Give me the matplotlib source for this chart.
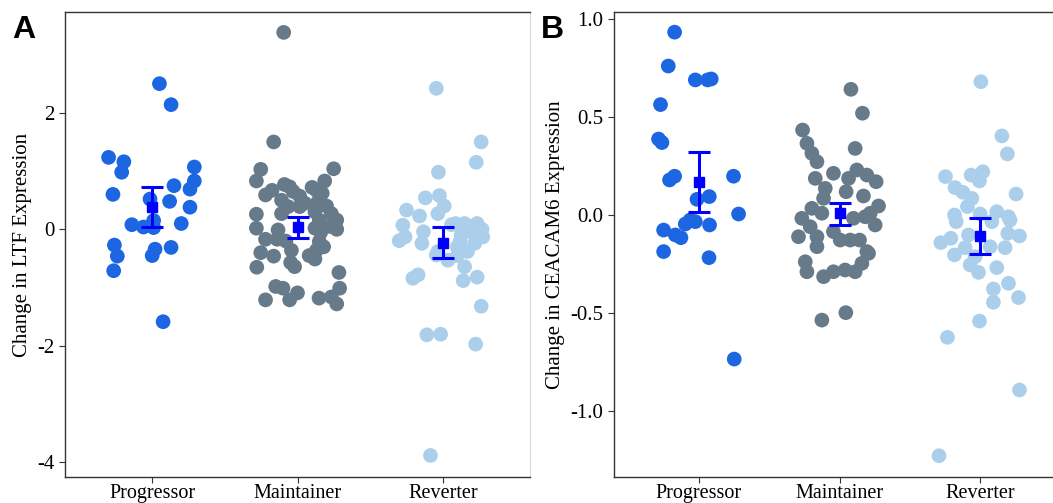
import matplotlib
matplotlib.use("Agg")
import matplotlib.pyplot as plt
import numpy as np

plt.rcParams['font.family'] = ['Liberation Serif', 'DejaVu Serif']
plt.rcParams['axes.unicode_minus'] = False

groups = ["Progressor", "Maintainer", "Reverter"]
colors = ["#1c66e2", "#667a89", "#abcfeb"]

# ---- Panel A: change in LTF expression (jitter offset, value) ----
ltf_prog_jit = [0.05, 0.13, -0.30, -0.195, -0.21, 0.29, 0.29, 0.26, 0.15, -0.27, -0.015, 0.12, 0.26,
                0.01, -0.14, -0.06, 0.01, 0.20, -0.26, -0.24, -0.265, 0.02, 0.0, 0.13, 0.075]
ltf_prog = [2.50, 2.14, 1.235, 1.16, 0.98, 1.07, 0.83, 0.69, 0.75, 0.60, 0.52, 0.48, 0.38,
            0.15, 0.08, 0.04, 0.03, 0.10, -0.27, -0.46, -0.71, -0.34, -0.45, -0.31, -1.585]

ltf_main_jit = [-0.095, -0.164, -0.253, -0.283, 0.249, 0.187, 0.13, -0.22, -0.175, -0.09, -0.054, 0.015,
                -0.11, -0.065, 0.015, -0.11, 0.14, 0.12, -0.283, 0.233, 0.27, 0.15, -0.283, 0.27,
                -0.134, 0.12, -0.22, -0.14, 0.15, -0.253, -0.164, -0.042, 0.13, -0.28, -0.047, -0.02,
                0.12, 0.285, -0.15, -0.10, 0.0, -0.054, -0.22, 0.29, 0.148, 0.233, 0.27,
                0.05, 0.17, 0.16, 0.18, 0.10, -0.03, 0.20, 0.22, 0.08, -0.08]
ltf_main = [3.38, 1.50, 1.03, 0.83, 1.04, 0.83, 0.67, 0.59, 0.67, 0.77, 0.73, 0.57,
            0.50, 0.39, 0.39, 0.27, 0.47, 0.30, 0.26, 0.27, 0.16, 0.16, 0.02, 0.0,
            -0.01, 0.02, -0.17, -0.17, -0.21, -0.40, -0.46, -0.36, -0.36, -0.65, -0.57, -0.64,
            -0.51, -0.74, -0.98, -1.01, -1.09, -1.21, -1.21, -1.01, -1.18, -1.16, -1.28,
            0.45, 0.62, -0.05, -0.30, 0.72, 0.65, 0.40, 0.05, -0.45, -0.20]

ltf_rev_jit = [-0.045, 0.264, 0.23, -0.03, -0.12, -0.023, 0.01, -0.25, -0.16, -0.034, -0.275, -0.133,
               -0.26, -0.30, -0.144, 0.09, 0.15, 0.236, 0.275, 0.22, 0.126, 0.10, 0.035, 0.15,
               -0.206, -0.17, 0.14, 0.236, 0.264, -0.034, 0.17, -0.11, -0.015, 0.226, -0.085, -0.045,
               0.06, 0.20, 0.12, 0.27, 0.18, 0.10]
ltf_rev = [2.42, 1.50, 1.15, 0.98, 0.54, 0.58, 0.40, 0.33, 0.23, 0.27, 0.07, -0.04,
           -0.13, -0.195, -0.24, 0.10, 0.10, 0.10, -0.13, -0.24, -0.10, -0.30, -0.53, -0.64,
           -0.84, -0.78, -0.88, -0.82, -1.32, -0.38, -0.38, -1.81, -1.80, -1.97, -3.88, -0.44,
           0.08, -0.05, -0.20, 0.0, 0.05, -0.45]

ltf_mean = [0.39, 0.045, -0.23]
ltf_low = [0.034, -0.155, -0.50]
ltf_high = [0.73, 0.22, 0.045]

# ---- Panel B: change in CEACAM6 expression ----
cea_prog_jit = [-0.17, -0.215, -0.023, 0.064, 0.09, -0.27, -0.284, -0.26, -0.206, -0.17, 0.248, -0.011,
                0.076, 0.284, -0.248, -0.165, -0.125, -0.094, -0.023, 0.078, -0.248, 0.074, 0.253, -0.06]
cea_prog = [0.934, 0.761, 0.69, 0.69, 0.695, 0.564, 0.388, 0.37, 0.179, 0.198, 0.198, 0.08,
            0.094, 0.005, -0.077, -0.102, -0.116, -0.046, -0.034, -0.051, -0.187, -0.218, -0.736, -0.026]

cea_main_jit = [0.163, -0.262, 0.111, -0.231, -0.196, -0.16, -0.172, -0.043, 0.064, 0.123, 0.194, 0.26,
                -0.101, 0.047, 0.17, -0.113, -0.196, 0.277, 0.218, -0.267, -0.125, 0.099, 0.182, 0.253,
                -0.208, -0.291, -0.16, -0.043, 0.005, 0.076, 0.142, -0.16, 0.194, -0.243, -0.231, -0.113,
                -0.043, 0.04, 0.111, 0.159, 0.206, -0.125, 0.045, 0.081]
cea_main = [0.52, 0.434, 0.34, 0.366, 0.315, 0.272, 0.187, 0.213, 0.187, 0.23, 0.204, 0.17,
            0.136, 0.119, 0.097, 0.085, 0.034, 0.046, 0.009, -0.017, 0.009, -0.017, -0.009, -0.051,
            -0.06, -0.111, -0.111, -0.085, -0.128, -0.128, -0.128, -0.162, -0.187, -0.239, -0.29, -0.315,
            -0.29, -0.281, -0.29, -0.247, -0.196, -0.537, -0.499, 0.642]

cea_rev_jit = [0.003, 0.152, 0.191, -0.248, -0.066, 0.017, -0.007, 0.253, -0.18, -0.125, -0.061, -0.092,
               -0.184, -0.002, 0.116, 0.199, -0.172, 0.081, 0.21, 0.194, 0.277, -0.085, -0.21, -0.281,
               0.069, 0.175, -0.109, -0.184, -0.038, -0.073, -0.014, 0.116, 0.199, 0.092, 0.092, 0.27,
               -0.007, -0.234, 0.277, -0.294]
cea_rev = [0.681, 0.404, 0.312, 0.196, 0.204, 0.221, 0.174, 0.107, 0.14, 0.116, 0.085, 0.043,
           0.0, 0.005, 0.017, -0.009, -0.034, -0.034, -0.026, -0.094, -0.107, -0.102, -0.119, -0.141,
           -0.162, -0.167, -0.167, -0.204, -0.213, -0.255, -0.293, -0.269, -0.349, -0.378, -0.446, -0.422,
           -0.542, -0.625, -0.894, -1.23]

cea_mean = [0.17, 0.009, -0.106]
cea_low = [0.017, -0.051, -0.198]
cea_high = [0.32, 0.06, -0.017]


def draw_panel(ax, jits, vals, mean, low, high, ylabel, yticks, ylim, ticklabels):
    for i, (jit, v) in enumerate(zip(jits, vals)):
        ax.scatter(np.array(jit) + i + 1, v, s=112, color=colors[i], edgecolors='none', zorder=2)
    x = np.arange(1, 4)
    mean = np.array(mean)
    err = [mean - np.array(low), np.array(high) - mean]
    ax.errorbar(x, mean, yerr=err, fmt='s', color='#0000ff', ms=7, elinewidth=2.2,
                capsize=8, capthick=2.2, zorder=3)
    ax.set_xlim(0.4, 3.6)
    ax.set_ylim(*ylim)
    ax.set_xticks(x)
    ax.set_xticklabels(groups)
    ax.set_yticks(yticks)
    ax.set_yticklabels(ticklabels)
    ax.set_ylabel(ylabel, fontsize=15)
    ax.tick_params(labelsize=15, length=4, color='#333333', labelcolor='black')
    ax.tick_params(axis='x', pad=1.0, labelsize=14.5)
    for sp in ['left', 'bottom', 'top']:
        ax.spines[sp].set_color('#333333')
        ax.spines[sp].set_linewidth(1.0)


fig = plt.figure(figsize=(10.53, 5.03), dpi=100)
axA = fig.add_axes([65 / 1053, 26 / 503, 465 / 1053, 465 / 503])
axB = fig.add_axes([614 / 1053, 26.3 / 503, 451 / 1053, 464.7 / 503])

draw_panel(axA, [ltf_prog_jit, ltf_main_jit, ltf_rev_jit], [ltf_prog, ltf_main, ltf_rev],
           ltf_mean, ltf_low, ltf_high, "Change in LTF Expression",
           [-4, -2, 0, 2], (-4.25, 3.73), ["-4", "-2", "0", "2"])
axA.spines['right'].set_color('#d8d8d8')

draw_panel(axB, [cea_prog_jit, cea_main_jit, cea_rev_jit], [cea_prog, cea_main, cea_rev],
           cea_mean, cea_low, cea_high, "Change in CEACAM6 Expression",
           [-1.0, -0.5, 0.0, 0.5, 1.0], (-1.337, 1.037), ["-1.0", "-0.5", "0.0", "0.5", "1.0"])
axB.spines['right'].set_color('#333333')

fig.text(12 / 1053, 1 - 38 / 503, "A", fontsize=23, fontweight='bold', family='Liberation Sans')
fig.text(541 / 1053, 1 - 38 / 503, "B", fontsize=23, fontweight='bold', family='Liberation Sans')

fig.savefig("out.png", dpi=100)
